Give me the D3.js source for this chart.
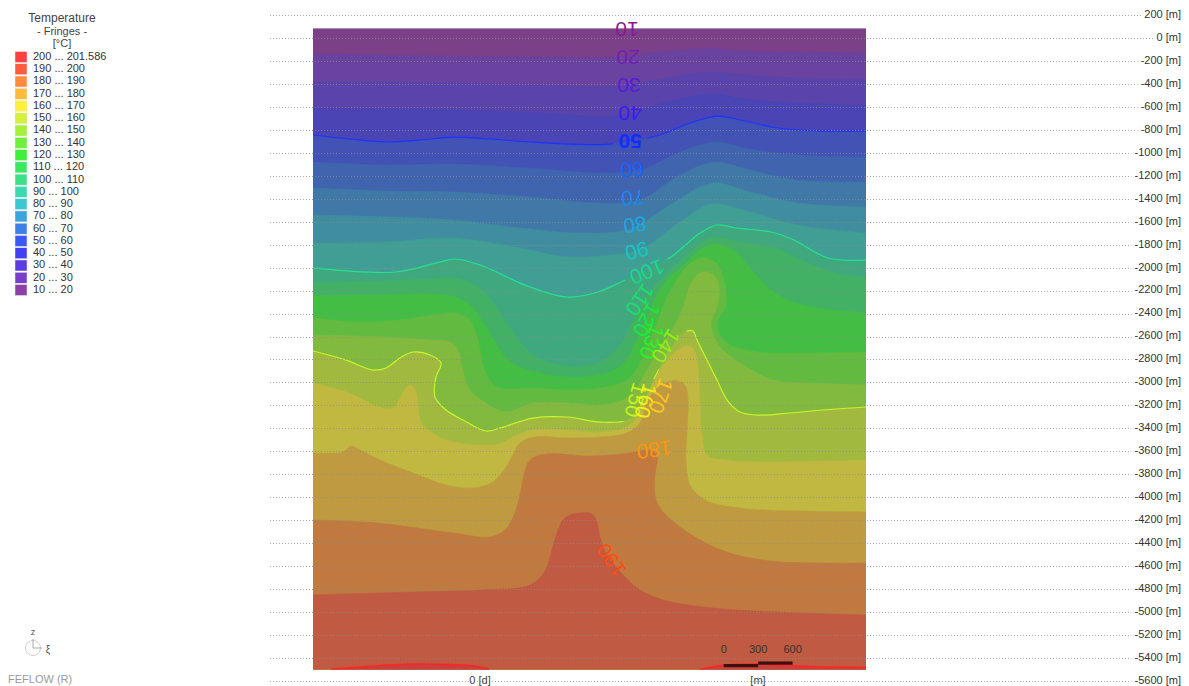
<!DOCTYPE html>
<html>
<head>
<meta charset="utf-8">
<script src="https://cdn.jsdelivr.net/npm/d3@7"></script>
<style>
  body { margin: 0; background: #fff; }
  svg { display: block; font-family: "Liberation Sans", Arial, sans-serif; }
</style>
</head>
<body>
<svg id="chart" width="1189" height="686"></svg>
<script>
// ---- Temperature classes [°C] ----
const levels = [10, 20, 30, 40, 50, 60, 70, 80, 90, 100, 110, 120, 130, 140, 150, 160, 170, 180, 190, 200];
const maxTemp = 201.586;

// ---- Elevation ticks [m] ----
const depthTicks = [200, 0, -200, -400, -600, -800, -1000, -1200, -1400, -1600, -1800, -2000, -2200, -2400,
  -2600, -2800, -3000, -3200, -3400, -3600, -3800, -4000, -4200, -4400, -4600, -4800, -5000, -5200, -5400, -5600];

// ---- Section geometry [m] ----
const sectionLength = 4820;
const modelTop = 85;
const modelBottom = -5500;
const scaleBarStart = 3580;
const scaleBarTicks = [0, 300, 600];

// ---- Isotherms: [distance along section (m), elevation (m)] ----
const iso20 = [[0,-140],[584,-148],[1220,-157],[1979,-166],[2658,-166],[3024,-122],[3373,-96],[3504,-96],[3722,-113],[4053,-122],[4820,-131]];
const iso30 = [[0,-384],[758,-384],[1220,-392],[1979,-410],[2658,-418],[3024,-357],[3286,-314],[3504,-296],[3765,-323],[4219,-349],[4820,-357]];
const iso40 = [[0,-610],[584,-619],[1220,-627],[1979,-654],[2658,-680],[3024,-575],[3286,-514],[3504,-488],[3765,-532],[4219,-566],[4820,-584]];
const iso50 = [[0,-845],[322,-880],[654,-906],[933,-889],[1220,-863],[1543,-880],[1891,-906],[2240,-924],[2589,-924],[2990,-854],[3286,-741],[3521,-680],[3765,-723],[4053,-784],[4419,-810],[4820,-810]];
const iso60 = [[0,-1080],[654,-1106],[1220,-1098],[1891,-1133],[2501,-1176],[2850,-1150],[3199,-993],[3504,-906],[3809,-967],[4219,-1019],[4820,-1037]];
const iso70 = [[0,-1307],[654,-1333],[1220,-1342],[1891,-1385],[2501,-1437],[2850,-1411],[3199,-1194],[3504,-1080],[3809,-1150],[4219,-1237],[4820,-1254]];
const iso80 = [[0,-1542],[654,-1559],[1220,-1585],[1804,-1655],[2327,-1699],[2763,-1664],[3112,-1455],[3478,-1263],[3809,-1341],[4219,-1437],[4820,-1472]];
const iso90 = [[0,-1786],[654,-1777],[1220,-1742],[1804,-1829],[2223,-1908],[2589,-1890],[2850,-1847],[3199,-1603],[3478,-1446],[3809,-1516],[4219,-1629],[4820,-1699]];
const iso100 = [[0,-2003],[723,-2038],[1107,-1951],[1238,-1925],[1456,-1977],[1891,-2169],[2223,-2256],[2484,-2212],[2685,-2125],[2894,-2021],[3120,-1908],[3373,-1699],[3521,-1629],[3687,-1655],[3992,-1690],[4192,-1760],[4489,-1916],[4820,-1934]];
const iso110 = [[0,-2134],[584,-2117],[1020,-2099],[1238,-2091],[1412,-2152],[1551,-2282],[1717,-2526],[1917,-2761],[2214,-2857],[2501,-2822],[2676,-2674],[2780,-2474],[2894,-2265],[3068,-2073],[3286,-1864],[3460,-1742],[3722,-1777],[4071,-1847],[4332,-1969],[4593,-2056],[4820,-2082]];
const iso120 = [[0,-2247],[584,-2239],[1020,-2230],[1238,-2256],[1368,-2326],[1499,-2500],[1630,-2718],[1761,-2848],[1979,-2918],[2214,-2953],[2501,-2935],[2693,-2848],[2824,-2630],[2937,-2369],[3068,-2125],[3225,-1985],[3373,-1847],[3486,-1795],[3661,-1847],[3809,-2003],[4009,-2212],[4306,-2334],[4820,-2395]];
const iso130 = [[0,-2439],[410,-2474],[758,-2456],[1107,-2404],[1238,-2395],[1368,-2456],[1438,-2630],[1490,-2874],[1586,-3031],[1717,-3057],[1917,-3049],[2214,-3066],[2501,-3049],[2737,-2979],[2876,-2779],[2998,-2482],[3094,-2239],[3199,-2064],[3303,-1951],[3399,-1916],[3504,-1951],[3582,-2108],[3600,-2326],[3521,-2500],[3609,-2657],[3870,-2735],[4306,-2744],[4820,-2735]];
const iso140 = [[0,-2587],[584,-2604],[1020,-2630],[1194,-2648],[1264,-2718],[1299,-2874],[1368,-3066],[1508,-3179],[1682,-3258],[1917,-3179],[2214,-3179],[2501,-3197],[2702,-3153],[2824,-3040],[2937,-2848],[3042,-2674],[3146,-2517],[3234,-2326],[3286,-2151],[3347,-2064],[3408,-2038],[3478,-2056],[3530,-2125],[3530,-2308],[3469,-2500],[3547,-2691],[3722,-2831],[4009,-2979],[4306,-3005],[4820,-3022]];
const iso150 = [[0,-2726],[288,-2805],[523,-2892],[636,-2874],[758,-2787],[872,-2735],[1020,-2761],[1116,-2831],[1072,-2953],[1063,-3127],[1159,-3240],[1307,-3327],[1508,-3423],[1630,-3397],[1917,-3310],[2214,-3301],[2501,-3345],[2737,-3327],[2868,-3170],[2998,-2918],[3138,-2674],[3242,-2561],[3312,-2552],[3347,-2630],[3434,-2805],[3521,-2979],[3609,-3153],[3722,-3258],[3870,-3284],[4158,-3266],[4445,-3240],[4820,-3214]];
const iso160 = [[0,-3005],[288,-3083],[584,-3214],[697,-3223],[784,-3092],[828,-3031],[863,-3031],[898,-3083],[933,-3327],[985,-3397],[1159,-3501],[1456,-3545],[1630,-3536],[1743,-3475],[1917,-3414],[2214,-3414],[2501,-3432],[2737,-3388],[2824,-3301],[2920,-3110],[3024,-2892],[3129,-2761],[3225,-2691],[3286,-2683],[3330,-2735],[3356,-2892],[3373,-3179],[3390,-3475],[3434,-3632],[3591,-3676],[3896,-3693],[4820,-3676]];
const iso170 = [[0,-3615],[261,-3606],[331,-3554],[410,-3588],[584,-3676],[872,-3789],[1159,-3893],[1395,-3919],[1569,-3867],[1682,-3737],[1743,-3632],[1804,-3528],[1935,-3475],[2214,-3484],[2501,-3475],[2737,-3440],[2850,-3353],[2911,-3170],[2998,-3049],[3094,-2996],[3181,-2988],[3242,-3022],[3269,-3153],[3260,-3414],[3251,-3676],[3286,-3893],[3417,-4024],[3722,-4094],[4245,-4120],[4820,-4128]];
const iso180 = [[0,-4198],[558,-4224],[1220,-4311],[1543,-4346],[1673,-4285],[1752,-4155],[1804,-3980],[1839,-3806],[1891,-3676],[2022,-3623],[2414,-3641],[2763,-3615],[2920,-3588],[2998,-3632],[2981,-3806],[2981,-3980],[3024,-4094],[3155,-4224],[3373,-4372],[3635,-4486],[3983,-4555],[4419,-4573],[4820,-4573]];
const iso190 = [[0,-4851],[889,-4825],[1456,-4808],[1891,-4764],[2022,-4642],[2083,-4459],[2127,-4311],[2179,-4198],[2240,-4155],[2327,-4137],[2432,-4146],[2475,-4216],[2501,-4346],[2554,-4486],[2615,-4573],[2719,-4695],[2850,-4808],[3051,-4895],[3486,-4965],[4071,-4999],[4820,-5026]];
const iso200West = [[157,-5498],[410,-5478],[671,-5461],[889,-5452],[1194,-5457],[1412,-5470],[1534,-5498]];
const iso200East = [[3373,-5498],[3478,-5478],[3591,-5461],[3887,-5452],[4219,-5470],[4506,-5478],[4820,-5483]];

const isotherms = [
  [20, iso20], [30, iso30], [40, iso40], [50, iso50], [60, iso60], [70, iso70], [80, iso80], [90, iso90],
  [100, iso100], [110, iso110], [120, iso120], [130, iso130], [140, iso140], [150, iso150], [160, iso160],
  [170, iso170], [180, iso180], [190, iso190]
];

// ---- Palettes (by class, 10 ... 200) ----
const legendColors = ["#8c40a8","#7840c8","#5a3ce0","#4040f4","#3c58f4","#3c80e8","#3ca4dc","#3cc8d0","#3cd8b0","#3ce088",
  "#3ce860","#3cf03c","#70f03c","#a6f03c","#d4f03c","#fcf03c","#ffbb3c","#ff8c3c","#ff5b3c","#ff4040"];
const fringeColors = ["#7b4087","#6a43a0","#5a44ab","#4a44b5","#4252b5","#4064ae","#4079a8","#408d9f","#409e94","#40a87f",
  "#42b165","#44bd44","#62bb40","#82ba40","#a2b940","#c0b840","#c09a40","#c07a40","#c05a42","#c84040"];
const labelColors = ["#8a1a8e","#741cb4","#581cd4","#3c1cec","#1030ff","#1a64f4","#1a88ec","#1aa8e0","#1ac4c4","#1ad890",
  "#1ae068","#1ae840","#2cf02c","#90f01c","#c8f01c","#f0f01c","#ffc41c","#ff9410","#ff4c14","#ff3030"];
const isolineColors = { 50: "#1a34ff", 100: "#24e290", 150: "#c6f52a", 200: "#ff2424" };

// ---- Contour label placement: [level, distance (m), elevation (m), rotation (deg)] ----
const labelPlacement = [
  [10, 2737, 78, 180], [20, 2746, -166, 180], [30, 2754, -410, 180], [40, 2763, -654, 180],
  [50, 2763, -906, 180], [60, 2780, -1150, 178], [70, 2789, -1394, 175], [80, 2807, -1629, 172],
  [90, 2824, -1855, 165], [100, 2911, -2038, 158], [110, 2850, -2282, 125], [120, 2911, -2456, 118],
  [130, 2955, -2648, 112], [140, 3077, -2683, 122], [150, 2815, -3153, 105], [160, 2902, -3162, 106],
  [170, 3033, -3118, 110], [180, 2972, -3588, 172], [190, 2597, -4546, 235]
];

// ---- Scales ----
const svg = d3.select("#chart");
const x = d3.scaleLinear().domain([0, sectionLength]).range([313, 866]);
const y = d3.scaleLinear().domain([-5600, 200]).range([681, 15]);

const defs = svg.append("defs");
defs.append("clipPath").attr("id", "domainClip").append("rect")
  .attr("x", x(0)).attr("y", y(modelTop))
  .attr("width", x(sectionLength) - x(0)).attr("height", y(modelBottom) - y(modelTop));

const curve = d3.line().x(d => x(d[0])).y(d => y(d[1])).curve(d3.curveCatmullRom.alpha(0.5));
const bottomY = y(modelBottom) + 2;
const bandPath = pts => curve(pts) + `L${x(pts[pts.length - 1][0])},${bottomY}L${x(pts[0][0])},${bottomY}Z`;
const colorOf = lv => fringeColors[levels.indexOf(lv)];

// ---- Fringes ----
const plot = svg.append("g").attr("clip-path", "url(#domainClip)");
plot.append("rect")
  .attr("x", x(0)).attr("y", y(modelTop))
  .attr("width", x(sectionLength) - x(0)).attr("height", y(modelBottom) - y(modelTop))
  .attr("fill", colorOf(10));

plot.selectAll("path.band").data(isotherms).join("path")
  .attr("class", "band")
  .attr("d", d => bandPath(d[1]))
  .attr("fill", d => colorOf(d[0]))
  .attr("stroke", d => colorOf(d[0]))
  .attr("stroke-width", 0.6);

plot.selectAll("path.hot").data([iso200West, iso200East]).join("path")
  .attr("class", "hot")
  .attr("d", d => bandPath(d))
  .attr("fill", colorOf(200));

// ---- Mask that opens gaps in the isolines under the labels ----
const mask = defs.append("mask").attr("id", "labelGaps").attr("maskUnits", "userSpaceOnUse")
  .attr("x", 0).attr("y", 0).attr("width", 1189).attr("height", 686);
mask.append("rect").attr("width", 1189).attr("height", 686).attr("fill", "#fff");
mask.selectAll("rect.gap").data(labelPlacement).join("rect")
  .attr("class", "gap")
  .attr("x", d => -(String(d[0]).length * 6.5 + 4)).attr("y", -11)
  .attr("width", d => String(d[0]).length * 13 + 8).attr("height", 22)
  .attr("transform", d => `translate(${x(d[1])},${y(d[2])}) rotate(${d[3]})`)
  .attr("fill", "#000");

// ---- Highlighted isolines ----
const lines = svg.append("g").attr("clip-path", "url(#domainClip)")
  .append("g").attr("mask", "url(#labelGaps)");
const highlighted = [[50, iso50], [100, iso100], [150, iso150], [200, iso200West], [200, iso200East]];
lines.selectAll("path").data(highlighted).join("path")
  .attr("d", d => curve(d[1]))
  .attr("fill", "none")
  .attr("stroke", d => isolineColors[d[0]])
  .attr("stroke-width", d => d[0] === 200 ? 1.6 : 1.2);

// ---- Elevation grid and labels ----
const axis = svg.append("g").attr("font-size", 11).attr("fill", "#333");
depthTicks.forEach(v => {
  const t = axis.append("text")
    .attr("x", 1181).attr("y", y(v))
    .attr("text-anchor", "end").attr("dominant-baseline", "middle")
    .text(`${v} [m]`);
  const w = t.node().getComputedTextLength();
  axis.insert("line", "text")
    .attr("x1", 270).attr("x2", 1181 - w - 3)
    .attr("y1", Math.round(y(v)) + 0.5).attr("y2", Math.round(y(v)) + 0.5)
    .attr("stroke", "#8c8c8c").attr("stroke-opacity", 0.75)
    .attr("stroke-dasharray", "1,2");
});

// ---- Contour labels ----
svg.append("g").selectAll("text").data(labelPlacement).join("text")
  .attr("transform", d => `translate(${x(d[1])},${y(d[2])}) rotate(${d[3]})`)
  .attr("text-anchor", "middle").attr("dominant-baseline", "central")
  .attr("font-size", 21)
  .attr("font-weight", d => d[0] === 50 ? "bold" : "normal")
  .attr("fill", d => labelColors[levels.indexOf(d[0])])
  .text(d => d[0]);

// ---- Bottom annotations ----
svg.append("text").attr("x", 480).attr("y", 681).attr("text-anchor", "middle")
  .attr("dominant-baseline", "middle").attr("font-size", 11).attr("fill", "#444").text("0 [d]");
svg.append("text").attr("x", 758).attr("y", 681).attr("text-anchor", "middle")
  .attr("dominant-baseline", "middle").attr("font-size", 11).attr("fill", "#444").text("[m]");

// ---- Scale bar ----
const bar = svg.append("g");
scaleBarTicks.forEach(t => {
  bar.append("text").attr("x", x(scaleBarStart + t)).attr("y", 650)
    .attr("text-anchor", "middle").attr("dominant-baseline", "middle")
    .attr("font-size", 11).attr("fill", "#333").text(t);
});
d3.pairs(scaleBarTicks).forEach(([a, b], i) => {
  bar.append("rect")
    .attr("x", x(scaleBarStart + a)).attr("width", x(scaleBarStart + b) - x(scaleBarStart + a))
    .attr("y", i === 0 ? 664 : 661.5).attr("height", 3.2)
    .attr("fill", "#3b1010");
});

// ---- Legend ----
const legend = svg.append("g").attr("fill", "#333");
legend.append("text").attr("x", 62).attr("y", 19).attr("text-anchor", "middle")
  .attr("dominant-baseline", "middle").attr("font-size", 12).attr("fill", "#444").text("Temperature");
legend.append("text").attr("x", 62).attr("y", 32).attr("text-anchor", "middle")
  .attr("dominant-baseline", "middle").attr("font-size", 11).attr("fill", "#444").text("- Fringes -");
legend.append("text").attr("x", 62).attr("y", 44).attr("text-anchor", "middle")
  .attr("dominant-baseline", "middle").attr("font-size", 11).attr("fill", "#444").text("[°C]");

const rows = levels.map((lv, i) => ({ lv, hi: i === levels.length - 1 ? maxTemp : levels[i + 1], color: legendColors[i] })).reverse();
const rowY = d3.scalePoint().domain(rows.map(r => r.lv)).range([57, 290]);
rows.forEach(r => {
  legend.append("rect").attr("x", 15).attr("y", rowY(r.lv) - 5.5).attr("width", 12).attr("height", 11)
    .attr("fill", r.color).attr("stroke", "#eee").attr("stroke-width", 0.5);
  legend.append("text").attr("x", 33).attr("y", rowY(r.lv)).attr("dominant-baseline", "middle")
    .attr("font-size", 11).text(`${r.lv} ... ${r.hi}`);
});

// ---- Orientation glyph and product mark ----
const glyph = svg.append("g");
glyph.append("circle").attr("cx", 33).attr("cy", 648).attr("r", 7.5)
  .attr("fill", "none").attr("stroke", "#d0d0d0");
glyph.append("line").attr("x1", 33).attr("y1", 648).attr("x2", 33).attr("y2", 639).attr("stroke", "#aaa");
glyph.append("line").attr("x1", 33).attr("y1", 648).attr("x2", 42).attr("y2", 648).attr("stroke", "#aaa");
glyph.append("text").attr("x", 33).attr("y", 633).attr("text-anchor", "middle").attr("dominant-baseline", "middle")
  .attr("font-size", 9).attr("fill", "#555").text("z");
glyph.append("text").attr("x", 48).attr("y", 650).attr("text-anchor", "middle").attr("dominant-baseline", "middle")
  .attr("font-size", 10).attr("fill", "#555").text("ξ");
svg.append("text").attr("x", 8).attr("y", 680).attr("dominant-baseline", "middle")
  .attr("font-size", 11).attr("fill", "#999").text("FEFLOW (R)");
</script>
</body>
</html>
